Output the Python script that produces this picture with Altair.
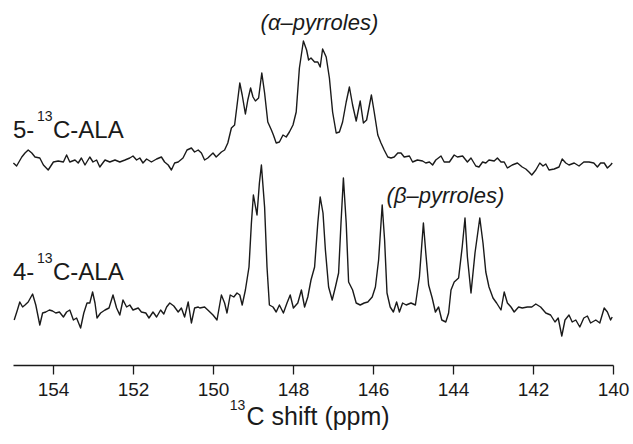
import altair as alt
import pandas as pd

# ---- data (ppm, intensity in arbitrary units above each trace's baseline) ----
ala5_ppm = [154.99,154.91,154.78,154.70,154.62,154.53,154.45,154.33,154.24,154.12,
            153.99,153.87,153.74,153.66,153.58,153.45,153.37,153.29,153.20,153.08,
            153.00,152.91,152.83,152.70,152.58,152.45,152.33,152.20,152.08,152.00,
            151.91,151.83,151.75,151.66,151.54,151.41,151.29,151.21,151.12,151.04,
            150.96,150.87,150.75,150.65,150.54,150.46,150.37,150.29,150.21,150.13,
            150.00,149.92,149.79,149.71,149.63,149.54,149.46,149.33,149.27,149.19,
            149.13,149.06,149.00,148.94,148.86,148.78,148.71,148.63,148.54,148.49,
            148.42,148.34,148.25,148.17,148.09,148.00,147.92,147.84,147.74,147.66,
            147.61,147.55,147.46,147.38,147.32,147.26,147.17,147.09,147.01,146.92,
            146.84,146.76,146.67,146.59,146.51,146.42,146.32,146.24,146.16,146.04,
            145.97,145.88,145.80,145.72,145.63,145.55,145.47,145.38,145.30,145.22,
            145.09,145.01,144.89,144.76,144.68,144.59,144.51,144.43,144.30,144.22,
            144.09,143.97,143.89,143.76,143.64,143.55,143.43,143.35,143.26,143.18,
            143.10,142.97,142.89,142.80,142.72,142.64,142.52,142.39,142.27,142.18,
            142.10,142.03,141.93,141.83,141.75,141.68,141.60,141.47,141.35,141.27,
            141.18,141.10,140.97,140.85,140.73,140.60,140.48,140.39,140.31,140.22,
            140.14,140.06,140.02]
ala5_int = [-1,-4,5,9,12,9,5,4,-3,-8,
            0,1,0,7,0,2,-1,4,-3,5,
            0,2,-5,2,0,2,0,2,4,6,
            2,4,-1,3,0,3,5,0,-3,-8,
            -1,0,4,12,14,10,12,9,2,4,
            9,5,10,12,19,34,37,79,67,48,
            62,74,65,61,64,89,69,40,32,27,
            19,20,27,25,30,37,50,94,121,112,
            102,104,100,100,95,113,105,84,50,29,
            30,40,60,75,57,41,61,39,42,67,
            50,27,19,12,5,4,5,9,9,5,
            6,0,2,1,-1,0,-3,2,6,0,
            0,7,5,6,0,4,-4,-5,0,-1,
            2,1,4,0,0,-6,-3,-1,-5,-7,
            -10,-13,-8,-1,-4,-2,-8,-7,-5,3,
            -1,-3,-1,-4,0,0,-1,-5,-1,-1,
            -6,-3,-1]

ala4_ppm = [154.97,154.89,154.83,154.76,154.70,154.62,154.51,154.43,154.33,154.26,
            154.18,154.09,154.01,153.93,153.84,153.74,153.66,153.58,153.49,153.41,
            153.31,153.23,153.15,153.08,153.01,152.95,152.90,152.81,152.70,152.60,
            152.50,152.41,152.33,152.25,152.16,152.08,152.00,151.87,151.79,151.68,
            151.60,151.50,151.41,151.31,151.23,151.16,151.08,150.98,150.87,150.79,
            150.71,150.62,150.54,150.46,150.37,150.33,150.21,150.13,150.00,149.90,
            149.79,149.71,149.65,149.57,149.48,149.40,149.33,149.27,149.19,149.10,
            149.04,148.99,148.90,148.84,148.79,148.71,148.65,148.59,148.50,148.42,
            148.34,148.24,148.15,148.07,147.99,147.88,147.79,147.71,147.63,147.55,
            147.46,147.38,147.32,147.25,147.19,147.11,147.02,146.94,146.86,146.80,
            146.74,146.67,146.61,146.51,146.42,146.32,146.22,146.13,146.02,145.94,
            145.86,145.77,145.71,145.65,145.57,145.49,145.41,145.34,145.26,145.17,
            145.05,144.94,144.84,144.74,144.68,144.61,144.52,144.44,144.36,144.28,
            144.18,144.11,144.05,143.97,143.86,143.77,143.70,143.64,143.55,143.45,
            143.33,143.25,143.18,143.10,143.00,142.91,142.80,142.72,142.64,142.55,
            142.47,142.36,142.27,142.14,142.03,141.93,141.81,141.68,141.56,141.45,
            141.37,141.28,141.20,141.10,141.02,140.93,140.83,140.73,140.64,140.56,
            140.43,140.33,140.22,140.14,140.06,140.02]
ala4_int = [-10,0,8,3,5,8,16,5,-15,-3,
            -2,0,-1,-3,-2,-7,-2,0,-10,-8,
            -18,-3,7,7,18,7,-8,-3,0,2,
            15,2,-5,10,3,5,0,2,-2,-3,
            -8,-2,-7,0,-4,3,7,4,-2,2,
            -7,8,-13,2,3,2,3,0,-5,-10,
            15,7,-3,15,13,17,15,5,20,43,
            87,115,95,127,145,103,43,5,3,-2,
            5,-3,7,15,2,7,20,3,13,30,
            43,87,113,97,60,23,10,23,37,87,
            132,87,28,20,7,5,7,8,13,23,
            50,105,70,17,3,-2,8,-2,7,5,
            7,5,33,87,57,25,12,-2,3,-10,
            -12,-3,20,28,32,63,92,53,17,57,
            92,67,38,23,12,7,0,18,7,3,
            -2,3,2,3,3,6,3,-3,-5,-12,
            -8,-26,-10,-5,-12,-10,-17,-8,-6,-13,
            -10,-13,2,-2,-10,-7]

trace_names = ["5-13C-ALA", "4-13C-ALA"]
trace_offsets = [203, 55]          # vertical stacking of the two spectra

tick_values = [154, 152, 150, 148, 146, 144, 142, 140]

# text pieces (main text and superscripts), anchored in data coordinates
main_text = ["5-", "C-ALA", "4-", "C-ALA", "C shift (ppm)"]
main_ppm = [155.0, 154.0, 155.0, 154.0, 149.16]
main_y = [227, 227, 85, 85, -60]
main_size = [24, 24, 24, 24, 25]

sup_text = ["13", "13", "13"]
sup_ppm = [154.4, 154.4, 149.58]
sup_y = [244, 102, -45]

region_labels = ["(\u03b1\u2013pyrroles)", "(\u03b2\u2013pyrroles)"]
region_label_ppm = [147.34, 144.19]
region_label_y = [335, 162]

# ---- build tables ----
rows = []
for name, ppm, inten, off in zip(trace_names, [ala5_ppm, ala4_ppm], [ala5_int, ala4_int], trace_offsets):
    for i, (p, v) in enumerate(zip(ppm, inten)):
        rows.append({"trace": name, "ppm": p, "intensity": v, "offset": off, "i": i})
df = pd.DataFrame(rows)

main_df = pd.DataFrame({"text": main_text, "ppm": main_ppm, "y": main_y, "size": main_size})
sup_df = pd.DataFrame({"text": sup_text, "ppm": sup_ppm, "y": sup_y})
region_df = pd.DataFrame({"text": region_labels, "ppm": region_label_ppm, "y": region_label_y})

FONT = "Liberation Sans"
INK = "#1a1a1a"

x_scale = alt.Scale(domain=[140, 155], reverse=True, nice=False, zero=False)
y_scale = alt.Scale(domain=[0, 365], nice=False, zero=False)

lines = alt.Chart(df).transform_calculate(
    y="datum.intensity + datum.offset"
).mark_line(color=INK, strokeWidth=1.4, strokeJoin="round").encode(
    x=alt.X("ppm:Q", scale=x_scale, title="",
            axis=alt.Axis(values=tick_values, grid=False,
                          domainColor=INK, domainWidth=1.3, tickColor=INK, tickWidth=1.3,
                          tickSize=9, labelFont=FONT, labelFontSize=19, labelColor=INK,
                          labelPadding=6, labelFlush=False, labelOverlap=False)),
    y=alt.Y("y:Q", scale=y_scale, axis=None),
    detail="trace:N",
    order="i:Q",
)

main_marks = alt.Chart(main_df).mark_text(
    align="left", baseline="alphabetic", font=FONT, color=INK
).encode(
    x=alt.X("ppm:Q", scale=x_scale), y=alt.Y("y:Q", scale=y_scale), text="text:N",
    size=alt.Size("size:Q", scale=None, legend=None),
)

sup_marks = alt.Chart(sup_df).mark_text(
    align="left", baseline="alphabetic", font=FONT, fontSize=14, color=INK
).encode(x=alt.X("ppm:Q", scale=x_scale), y=alt.Y("y:Q", scale=y_scale), text="text:N")

region_text = alt.Chart(region_df).mark_text(
    align="center", baseline="alphabetic", font=FONT, fontSize=22, fontStyle="italic", color=INK
).encode(x=alt.X("ppm:Q", scale=x_scale), y=alt.Y("y:Q", scale=y_scale), text="text:N")

chart = alt.layer(lines, main_marks, sup_marks, region_text).properties(
    width=600, height=365,
    padding={"left": 13, "top": 0, "right": 20, "bottom": 79},
    autosize=alt.AutoSizeParams(type="none"),
    background="white",
).configure_view(strokeWidth=0)

chart.save("out.html", embed_options={"renderer": "svg", "actions": False})
